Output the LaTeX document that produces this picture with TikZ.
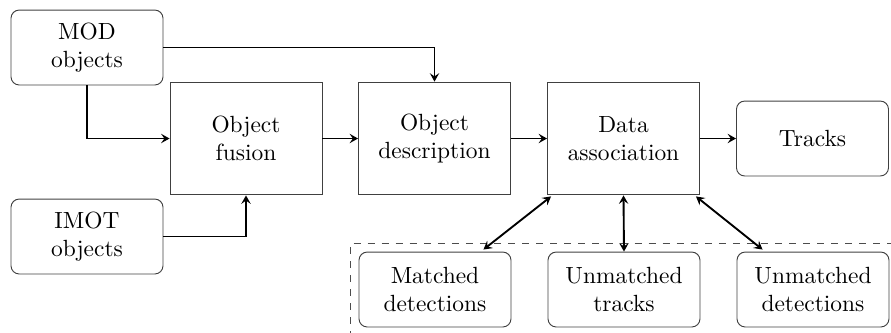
\documentclass[tikz,border=0pt]{standalone}
\usetikzlibrary{calc,arrows.meta}
\begin{document}
\begin{tikzpicture}[x=0.427pt,y=-0.427pt,
  tip/.tip={Stealth[length=3.6pt,width=4pt,inset=1.4pt]},
  rbox/.style={draw=black!75,rounded corners=3.5pt,minimum width=64.9pt,minimum height=32pt,align=center,inner sep=0pt},
  sbox/.style={draw=black!75,minimum width=64.9pt,minimum height=48.2pt,align=center,inner sep=0pt},
  conn/.style={-tip,thick},
  dconn/.style={tip-tip,thick}]
\useasboundingbox (0,0) rectangle (891,332);
\node[rbox] (mod) at (87,47.5) {MOD\\objects};
\node[rbox] (imot) at (87,236.5) {IMOT\\objects};
\node[sbox] (fus) at (246,138.5) {Object\\fusion};
\node[sbox] (desc) at (434.5,138.5) {Object\\description};
\node[sbox] (data) at (623.5,138.5) {Data\\association};
\node[rbox] (tracks) at (812.5,138.5) {Tracks};
\node[rbox] (mdet) at (435,289.5) {Matched\\detections};
\node[rbox] (utr) at (624,289.5) {Unmatched\\tracks};
\node[rbox] (udet) at (813,289.5) {Unmatched\\detections};
\draw[dashed,black!70] (350,380) -- (350,243) -- (940,243);
\draw[conn] (mod.east) -| (desc.north);
\draw[conn] (mod.south) |- (fus.west);
\draw[conn] (imot.east) -| (fus.south);
\draw[conn] (fus) -- (desc);
\draw[conn] (desc) -- (data);
\draw[conn] (data) -- (tracks);
\draw[dconn] ($(data.south west)+(4,1)$) -- ($(mdet.north east)+(-28,-2)$);
\draw[dconn] (data.south) -- (utr.north);
\draw[dconn] ($(data.south east)+(-4,1)$) -- ($(udet.north west)+(26,-2)$);
\end{tikzpicture}
\end{document}
